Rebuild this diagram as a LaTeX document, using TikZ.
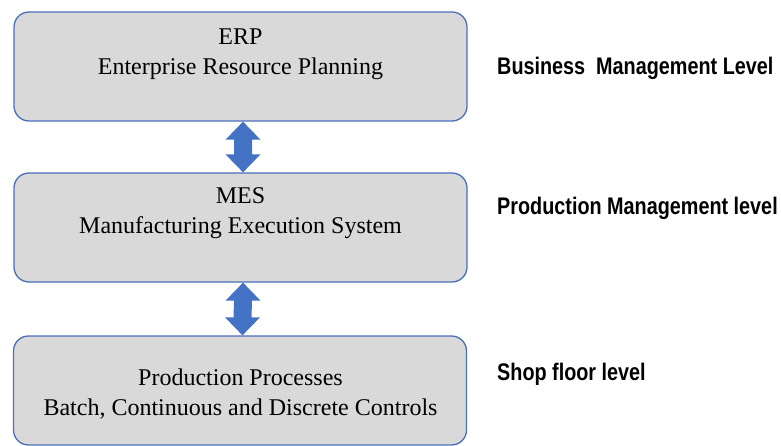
\documentclass[tikz,border=0pt]{standalone}
\usepackage{fontspec}
\setmainfont{Liberation Serif}
\newfontfamily\labelfont[FakeStretch=0.825]{Liberation Sans}
\usetikzlibrary{calc}
\definecolor{boxfill}{HTML}{D9D9D9}
\definecolor{boxline}{HTML}{4A70B8}
\definecolor{arrowfill}{HTML}{4472C4}
\tikzset{
  levelbox/.style={draw=boxline, line width=1.3pt, fill=boxfill, rounded corners=15pt,
    minimum width=453pt, minimum height=109pt, inner sep=0pt},
  boxtext/.style={align=center, font=\fontsize{24}{29.5}\selectfont, inner sep=0pt},
  leveltext/.style={anchor=west, font=\labelfont\bfseries\fontsize{24}{28}\selectfont, inner sep=0pt},
}
\newcommand{\dblarrow}[2]{%
  \fill[arrowfill]
    ($(#1.south)+(2.5,0)$) -- ++(17.5,18) -- ++(-8.5,0) -- ($(#2.north)+(11.5,-18)$)
    -- ++(8.5,0) -- ($(#2.north)+(2.5,0)$) -- ++(-17.5,-18) -- ++(8.5,0)
    -- ($(#1.south)+(-6.5,18)$) -- ++(-8.5,0) -- cycle;}
\begin{document}
\begin{tikzpicture}[x=1pt,y=-1pt]
\useasboundingbox (0,0) rectangle (781,446);
\node[levelbox] (b1) at (240.5,66.5) {};
\node[levelbox] (b2) at (240.5,227.5) {};
\node[levelbox] (b3) at (240,390.5) {};
\node[boxtext] (t1) at (240.5,54) {ERP\\Enterprise Resource Planning};
\node[boxtext] (t2) at (240.5,213) {MES\\Manufacturing Execution System};
\node[boxtext] (t3) at (240.5,394) {Production Processes\\Batch, Continuous and Discrete Controls};
\node[leveltext] (l1) at (497,68) {Business\ \ Management Level};
\node[leveltext] (l2) at (497,208) {Production Management level};
\node[leveltext] (l3) at (497,374) {Shop floor level};
\dblarrow{b1}{b2}
\dblarrow{b2}{b3}
\end{tikzpicture}
\end{document}
